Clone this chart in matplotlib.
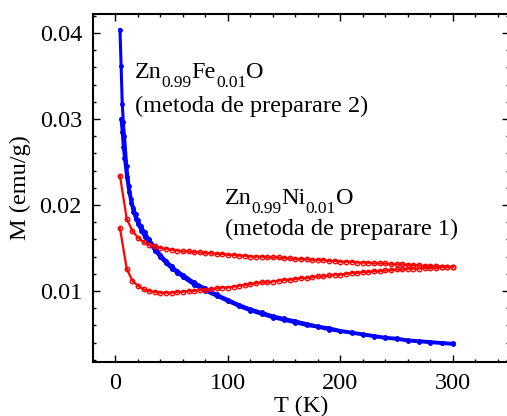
import matplotlib
matplotlib.use("Agg")
import matplotlib.pyplot as plt
import matplotlib.transforms as mtransforms
from matplotlib.ticker import MultipleLocator

plt.rcParams['font.family'] = ['Liberation Serif', 'DejaVu Serif']

# ---- data ----
T_fe_a = [4, 5, 6, 7, 8, 10, 12, 14, 16, 18, 20, 23, 26, 30, 35, 40, 45, 50, 55, 60,
          70, 80, 90, 100, 110, 120, 130, 140, 150, 160, 170, 180, 190, 200, 210, 220,
          230, 240, 250, 260, 270, 280, 290, 300]
M_fe_a = [0.0404, 0.0362, 0.0318, 0.0296, 0.0280, 0.0245, 0.0222, 0.0207, 0.0197, 0.0189,
          0.0182, 0.0175, 0.0168, 0.0160, 0.0151, 0.0142, 0.0135, 0.0129, 0.0123, 0.0119,
          0.0110, 0.0103, 0.0096, 0.0090, 0.0084, 0.0079, 0.0075, 0.0071, 0.0068, 0.0065,
          0.0062, 0.0059, 0.0057, 0.0054, 0.0052, 0.0050, 0.0048, 0.0046, 0.0045, 0.0043,
          0.0042, 0.0041, 0.0040, 0.0039]
T_fe_b = [5, 6, 7, 8, 10, 12, 14, 16, 18, 20, 23, 26, 30, 35, 40, 45, 50, 55, 60,
          70, 80, 90, 100, 110, 120, 130, 140, 150, 160, 170, 180, 190, 200, 210, 220,
          230, 240, 250, 260, 270, 280, 290, 300]
M_fe_b = [0.0300, 0.0285, 0.0268, 0.0255, 0.0232, 0.0215, 0.0202, 0.0192, 0.0184, 0.0178,
          0.0170, 0.0163, 0.0156, 0.0147, 0.0139, 0.0132, 0.0126, 0.0121, 0.0116,
          0.0107, 0.0100, 0.0094, 0.0088, 0.0082, 0.0077, 0.0073, 0.0069, 0.0066, 0.0063,
          0.0060, 0.0058, 0.0055, 0.0053, 0.0051, 0.0049, 0.0047, 0.0045, 0.0044, 0.0042,
          0.0041, 0.0040, 0.0039, 0.0038]

T_ni = [4, 10, 15, 20, 25, 30, 35, 40, 45, 50, 55, 60, 65, 70, 75, 80, 85, 90, 95, 100,
        105, 110, 115, 120, 125, 130, 135, 140, 145, 150, 155, 160, 165, 170, 175, 180,
        185, 190, 195, 200, 205, 210, 215, 220, 225, 230, 235, 240, 245, 250, 255, 260,
        265, 270, 275, 280, 285, 290, 295, 300]
M_ni_up = [0.0234, 0.0184, 0.0170, 0.0162, 0.0157, 0.0154, 0.0152, 0.0150, 0.0149, 0.0148,
           0.0147, 0.0146, 0.0146, 0.0145, 0.0145, 0.0144, 0.0144, 0.0143, 0.0143, 0.0142,
           0.0142, 0.0141, 0.0141, 0.0140, 0.0140, 0.0140, 0.0139, 0.0139, 0.0139, 0.0138,
           0.0138, 0.0137, 0.0137, 0.0137, 0.0136, 0.0136, 0.0136, 0.0135, 0.0135, 0.0134,
           0.0134, 0.0134, 0.0133, 0.0133, 0.0133, 0.0132, 0.0132, 0.0132, 0.0131, 0.0131,
           0.0131, 0.0130, 0.0130, 0.0130, 0.0129, 0.0129, 0.0129, 0.0128, 0.0128, 0.0128]
M_ni_low = [0.0173, 0.0126, 0.0112, 0.0106, 0.0102, 0.0100, 0.0099, 0.0098, 0.0098, 0.0098,
            0.0099, 0.0099, 0.0100, 0.0100, 0.0101, 0.0101, 0.0102, 0.0103, 0.0104, 0.0104,
            0.0105, 0.0106, 0.0107, 0.0108, 0.0109, 0.0110, 0.0110, 0.0111, 0.0112, 0.0113,
            0.0113, 0.0114, 0.0115, 0.0115, 0.0116, 0.0117, 0.0117, 0.0118, 0.0119, 0.0119,
            0.0120, 0.0121, 0.0121, 0.0122, 0.0122, 0.0123, 0.0123, 0.0124, 0.0124, 0.0125,
            0.0125, 0.0126, 0.0126, 0.0126, 0.0127, 0.0127, 0.0127, 0.0128, 0.0128, 0.0128]

# formula pieces: (text, is_subscript)
formula_fe = [("Zn", False), ("0.99", True), ("Fe", False), ("0.01", True), ("O", False)]
formula_ni = [("Zn", False), ("0.99", True), ("Ni", False), ("0.01", True), ("O", False)]
method_fe = "(metoda de preparare 2)"
method_ni = "(metoda de preparare 1)"
xlabel = "T (K)"
ylabel = "M (emu/g)"

# ---- figure ----
W, H = 507, 416
fig = plt.figure(figsize=(W / 100, H / 100), dpi=100)
ax = fig.add_axes([93 / W, 1 - 362 / H, (509 - 93) / W, (362 - 14) / H])

blue = '#0000ff'
red = '#ff0000'
ax.plot(T_fe_a, M_fe_a, '-o', color=blue, lw=2.2, ms=2.5, mfc=blue, mec=blue)
ax.plot(T_fe_b, M_fe_b, '-o', color=blue, lw=2.2, ms=2.5, mfc=blue, mec=blue)
ax.plot(T_ni, M_ni_up, '-o', color=red, lw=1.6, ms=3.2, mfc='none', mec=red, mew=1.0)
ax.plot(T_ni, M_ni_low, '-o', color=red, lw=1.6, ms=3.2, mfc='none', mec=red, mew=1.0)

ax.set_xlim(-20, 350)
ax.set_ylim(0.00174, 0.04221)
ax.xaxis.set_major_locator(MultipleLocator(100))
ax.xaxis.set_minor_locator(MultipleLocator(20))
ax.yaxis.set_major_locator(MultipleLocator(0.01))
ax.yaxis.set_minor_locator(MultipleLocator(0.002))
ax.tick_params(which='both', direction='in', top=True, right=True, width=1.0)
ax.tick_params(which='major', length=5, labelsize=17.5, pad=8)
ax.tick_params(which='minor', length=2.5)
for s in ax.spines.values():
    s.set_linewidth(1.5)

ax.set_xlabel(xlabel, fontsize=17.5, labelpad=1)
ax.set_ylabel(ylabel, fontsize=17.5, labelpad=6)

fs_main = 17.5
fs_sub = 12.5
renderer = fig.canvas.get_renderer()


def chem(x, y, parts):
    dx = 0.0
    for txt, sub in parts:
        dy = -9.0 if sub else 0.0
        tr = mtransforms.offset_copy(ax.transData, fig=fig, x=dx, y=dy, units='dots')
        t = ax.text(x, y, txt, fontsize=fs_sub if sub else fs_main,
                    transform=tr, va='baseline', ha='left')
        dx += t.get_window_extent(renderer).width


chem(17, 0.03475, formula_fe)
ax.text(17, 0.03081, method_fe, fontsize=fs_main, va='baseline', ha='left')
chem(97, 0.0201, formula_ni)
ax.text(97, 0.01651, method_ni, fontsize=fs_main, va='baseline', ha='left')

fig.savefig('out.png', dpi=100)
